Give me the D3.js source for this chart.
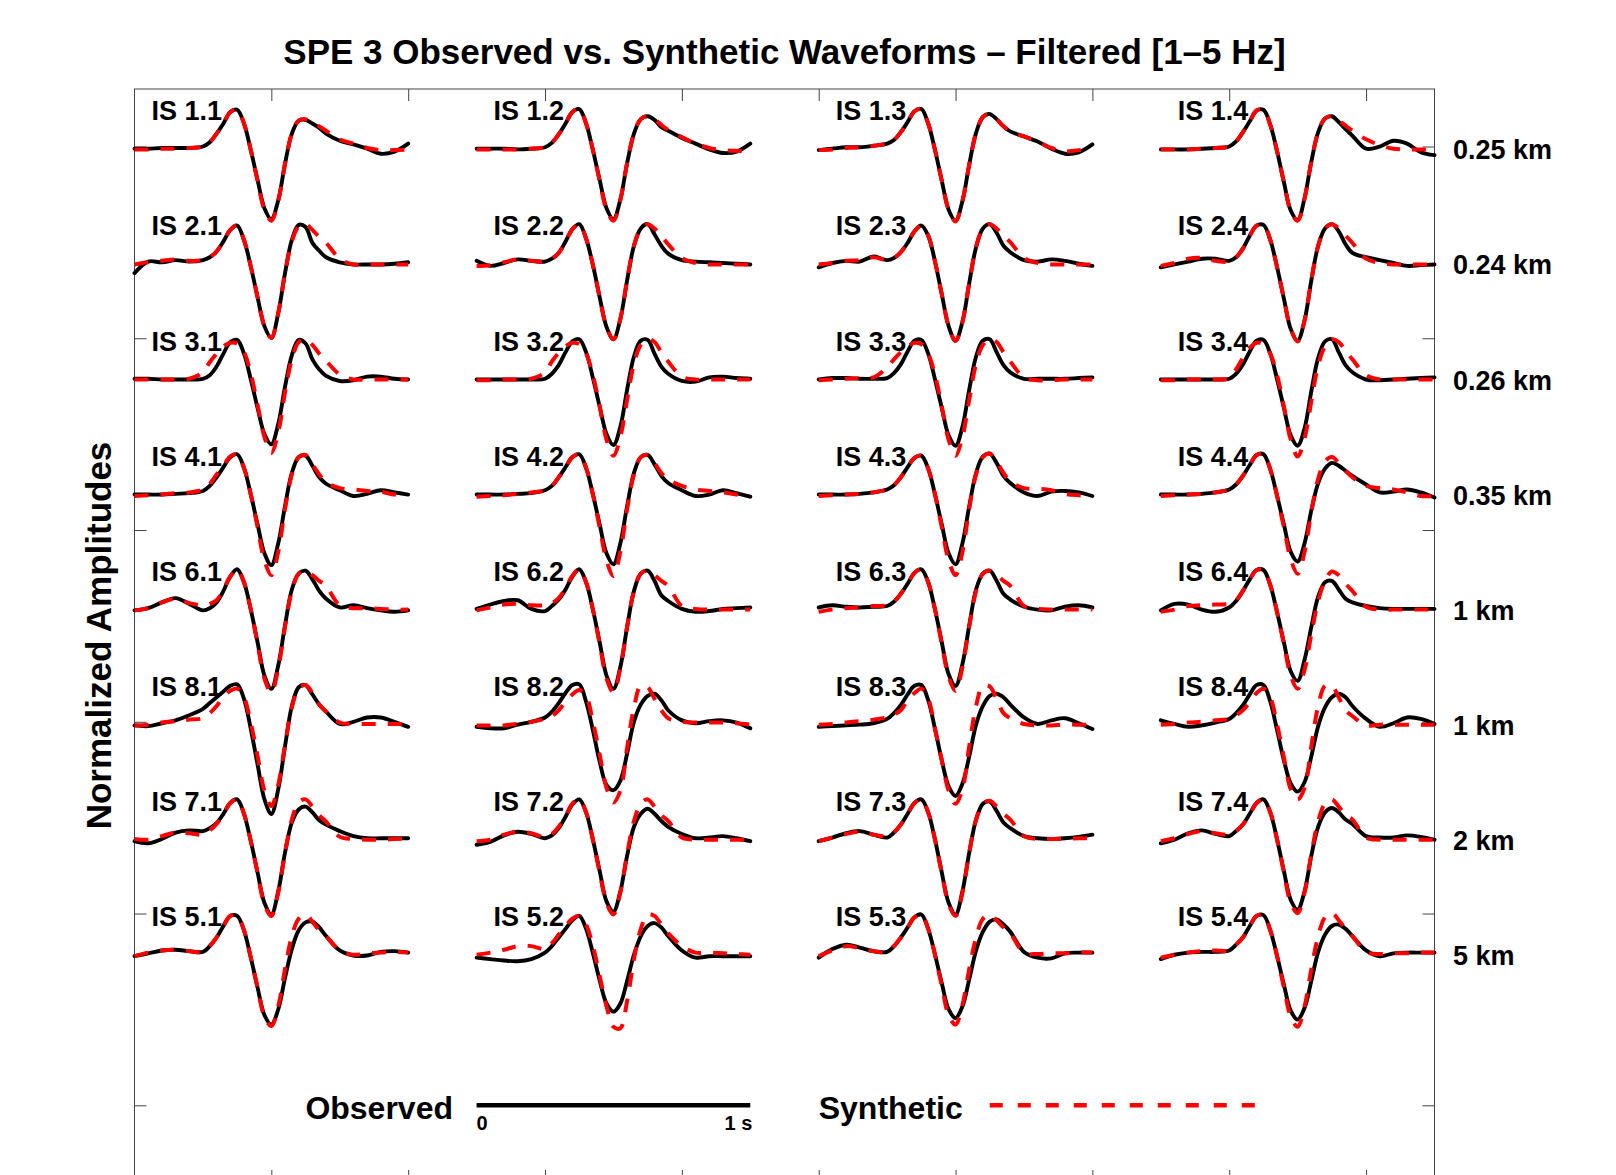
<!DOCTYPE html>
<html><head><meta charset="utf-8">
<script src="https://cdn.jsdelivr.net/npm/d3@7"></script>
<style>body{margin:0;background:#fff}</style>
</head><body>
<svg id="chart" width="1616" height="1175"></svg>
<script>
// ---------- data ----------
const times = [0,0.05,0.1,0.15,0.2,0.25,0.275,0.3,0.325,0.35,0.375,0.4,0.425,0.45,0.475,0.5,0.525,0.55,0.575,0.6,0.625,0.65,0.675,0.7,0.75,0.8,0.85,0.9,0.95,1];
const stations = ["1","2","3","4","6","8","7","5"];
const components = ["1","2","3","4"];
const distances = ["0.25 km","0.24 km","0.26 km","0.35 km","1 km","1 km","2 km","5 km"];
const xTicks = [1,2,3,4,5,6,7,8,9];
const yTicks = [0,-1,-2,-3,-4,-5];
const titleText = "SPE 3 Observed vs. Synthetic Waveforms \u2013 Filtered [1\u20135 Hz]";
const yLabel = "Normalized Amplitudes";

// normalized amplitudes (percent), sampled on `times`
const obs11 = [1,1,2,2,2,4,10,22,36,52,55,36,-1,-43,-82,-97,-71,-20,22,40,41,36,30,22,12,7,1,-6,-3,8];
const syn11 = [0,0,1,1,2,4,10,22,36,52,55,36,-1,-44,-84,-99,-72,-20,22,40,42,38,32,26,14,8,2,-1,-1,0];
const obs12 = [1,1,1,0,1,3,9,21,36,52,56,36,-1,-43,-82,-97,-70,-19,22,42,46,41,31,26,16,8,0,-5,-3,8];
const syn12 = [0,0,0,0,1,3,9,21,36,52,56,36,-1,-44,-84,-99,-71,-19,22,42,46,42,34,27,17,8,2,-1,-2,-2];
const obs13 = [-1,1,3,3,5,8,13,24,38,53,56,36,-1,-44,-84,-99,-72,-21,23,45,49,42,32,25,18,11,1,-6,-4,7];
const syn13 = [-1,0,2,3,5,8,13,24,38,53,56,36,-1,-44,-84,-100,-72,-21,23,45,49,42,32,25,18,11,2,-3,-1,0];
const obs14 = [0,0,0,1,2,4,11,24,39,54,55,34,-3,-46,-85,-98,-68,-17,24,43,46,38,28,19,1,4,12,8,-4,-8];
const syn14 = [0,0,0,1,2,4,11,24,39,54,55,34,-3,-46,-86,-99,-69,-17,24,43,46,40,33,26,14,6,1,0,0,0];

const obs21 = [-12,4,3,6,4,6,10,18,32,48,54,34,-3,-46,-86,-102,-68,-12,34,55,52,30,19,10,3,0,0,0,1,3];
const syn21 = [0,3,5,7,5,6,10,18,32,48,54,34,-3,-46,-86,-102,-68,-12,32,53,56,48,38,30,8,0,0,0,0,0];
const obs22 = [5,-2,2,7,5,4,8,16,32,49,56,36,-1,-46,-87,-104,-76,-22,26,50,56,42,26,15,6,4,3,2,1,0];
const syn22 = [-2,-1,3,7,5,4,8,16,32,49,56,36,-1,-46,-87,-104,-76,-22,26,50,56,50,40,28,9,2,0,0,0,0];
const obs23 = [-4,2,5,4,11,6,9,17,30,46,54,40,4,-42,-86,-106,-80,-26,24,50,56,44,26,17,6,4,7,5,1,-2];
const syn23 = [0,2,5,6,10,6,9,17,30,46,54,40,4,-42,-86,-106,-80,-26,24,50,56,50,40,31,9,2,0,0,0,0];
const obs24 = [-4,0,4,8,8,5,10,22,40,54,55,34,-4,-48,-90,-106,-78,-22,26,50,56,46,28,16,10,6,2,-2,-1,0];
const syn24 = [-2,2,8,9,5,4,10,22,40,54,55,34,-4,-48,-90,-107,-78,-22,26,50,56,50,40,30,8,2,0,0,0,0];

const obs31 = [1,1,0,0,0,1,6,18,36,52,55,36,0,-40,-76,-90,-62,-10,34,55,50,28,14,5,-2,-1,4,4,1,0];
const syn31 = [0,0,0,0,1,10,24,36,46,51,50,38,8,-36,-80,-102,-74,-18,28,52,56,48,36,26,7,0,0,0,0,0];
const obs32 = [0,0,0,0,0,1,8,20,38,53,56,38,2,-38,-76,-91,-66,-14,32,54,55,36,18,8,-2,-3,3,4,2,1];
const syn32 = [-1,-1,0,0,1,10,25,37,46,51,49,36,6,-38,-84,-106,-80,-28,22,48,56,52,38,25,4,0,0,0,0,0];
const obs33 = [0,2,2,1,1,2,9,21,39,54,55,36,0,-40,-78,-92,-66,-14,32,54,56,38,20,10,1,1,1,1,2,3];
const syn33 = [-1,0,1,2,3,17,28,38,46,51,49,36,6,-38,-84,-106,-80,-28,22,48,56,52,38,25,3,-1,-1,0,0,0];
const obs34 = [0,0,0,0,0,1,8,21,39,54,55,36,0,-40,-78,-92,-68,-16,30,53,56,38,20,10,0,-1,0,1,2,3];
const syn34 = [-1,-1,0,0,0,2,14,30,44,51,49,36,6,-38,-84,-107,-82,-30,20,46,56,52,40,28,6,0,0,0,0,0];

const obs41 = [0,0,0,1,2,5,12,24,38,52,56,37,0,-42,-82,-98,-68,-16,30,52,54,40,24,15,6,-2,1,6,3,0];
const syn41 = [-2,-1,0,2,3,7,15,28,40,53,56,37,0,-46,-92,-112,-80,-20,28,52,55,42,28,17,9,7,5,4,0,-2];
const obs42 = [0,0,0,1,2,6,12,24,38,52,56,37,0,-42,-82,-97,-68,-16,30,52,55,42,26,16,6,-2,0,6,2,-3];
const syn42 = [-3,-2,-1,1,3,6,12,24,38,52,56,37,0,-46,-92,-113,-80,-20,28,52,55,44,30,21,12,7,5,3,0,-3];
const obs43 = [0,0,0,1,3,7,13,24,38,51,54,36,0,-42,-82,-97,-68,-16,30,53,57,44,26,16,3,-2,4,5,3,-2];
const syn43 = [-2,-1,0,1,3,7,13,24,38,51,54,36,0,-46,-92,-112,-80,-20,28,52,57,46,30,18,9,8,6,1,-1,-2];
const obs44 = [0,0,0,1,3,7,14,26,41,55,56,35,-2,-42,-80,-93,-68,-22,16,36,44,40,33,26,14,3,4,7,3,-4];
const syn44 = [-2,-1,0,1,3,7,14,26,41,55,56,35,-2,-46,-90,-110,-80,-24,22,46,52,44,33,24,12,9,7,3,-2,-2];

const obs61 = [-1,2,10,16,8,-1,2,10,26,46,56,38,0,-46,-92,-110,-78,-22,28,50,54,42,26,15,3,6,2,-1,-3,-1];
const syn61 = [-1,2,10,15,9,6,8,13,28,46,56,38,0,-48,-96,-115,-82,-24,26,50,54,48,40,33,6,2,2,1,0,0];
const obs62 = [1,7,12,13,1,-2,5,14,28,46,56,38,0,-46,-92,-110,-80,-24,26,50,54,40,20,12,1,-3,-2,1,2,3];
const syn62 = [-1,3,7,8,6,6,9,16,30,47,56,38,0,-48,-96,-115,-82,-24,26,50,54,48,40,33,5,1,0,0,0,0];
const obs63 = [3,6,4,3,4,5,11,22,36,51,56,38,0,-46,-90,-106,-76,-22,28,50,54,40,22,14,4,0,-1,4,6,3];
const syn63 = [-3,0,2,3,5,6,11,22,36,51,56,38,0,-48,-94,-113,-80,-24,26,50,54,48,40,33,5,1,0,0,0,0];
const obs64 = [-1,8,7,0,-3,3,12,26,42,55,55,34,-4,-46,-86,-99,-70,-24,18,38,40,28,15,10,5,2,1,1,1,1];
const syn64 = [-3,0,5,6,7,8,13,26,42,55,55,34,-4,-48,-92,-110,-84,-34,12,40,53,48,36,26,4,0,0,0,0,0];

const obs81 = [-1,-2,2,6,13,22,30,38,46,54,56,36,-6,-56,-104,-124,-90,-30,26,52,55,42,28,18,1,4,10,10,4,-3];
const syn81 = [-1,0,3,5,7,9,16,26,38,47,50,38,2,-44,-92,-113,-84,-28,24,50,55,44,28,18,3,1,1,1,1,1];
const obs82 = [-3,-5,-5,0,4,10,18,30,44,55,56,32,-8,-52,-84,-91,-78,-40,4,28,40,43,34,20,6,2,5,6,3,-5];
const syn82 = [-1,-1,-1,1,4,8,12,20,32,42,48,40,4,-42,-88,-108,-92,-32,24,54,52,36,20,9,4,3,3,3,2,0];
const obs83 = [-3,-2,-1,0,2,8,16,27,42,54,55,34,-6,-50,-86,-99,-82,-44,0,26,40,43,38,28,10,1,6,9,2,-6];
const syn83 = [0,1,3,5,7,10,14,20,34,44,50,36,-6,-50,-92,-110,-90,-30,26,54,53,36,16,9,1,-1,-1,0,0,0];
const obs84 = [6,1,-3,-1,3,8,16,27,42,55,55,32,-8,-50,-82,-93,-80,-44,-2,24,38,43,38,26,8,-3,2,10,8,1];
const syn84 = [0,1,3,4,6,8,13,20,31,44,50,38,0,-46,-90,-104,-88,-30,26,54,54,38,20,12,-1,0,0,0,0,0];

const obs71 = [-2,-5,1,10,13,12,16,23,36,51,56,36,-2,-46,-88,-104,-72,-18,24,42,46,38,27,21,12,5,2,2,2,2];
const syn71 = [1,0,5,10,9,7,13,22,36,51,56,36,-2,-47,-90,-106,-74,-18,28,52,56,46,34,25,4,1,0,0,1,2];
const obs72 = [-7,-3,6,11,8,2,6,16,32,49,56,38,0,-44,-86,-100,-72,-22,18,36,43,36,26,18,8,2,3,5,2,-2];
const syn72 = [-2,0,7,11,9,4,8,18,33,50,56,38,0,-46,-88,-104,-74,-20,26,50,56,46,34,26,3,0,0,0,0,0];
const obs73 = [-2,3,9,12,7,3,10,21,36,51,56,38,0,-46,-88,-104,-72,-18,28,50,53,40,24,16,5,2,1,2,4,7];
const syn73 = [-2,3,8,11,7,5,10,21,36,51,56,38,0,-47,-90,-106,-74,-18,28,50,54,46,36,28,5,1,1,1,2,2];
const obs74 = [-5,0,9,13,8,5,12,21,36,51,56,38,0,-44,-84,-97,-72,-22,18,38,44,38,28,22,5,3,3,6,4,0];
const syn74 = [-2,2,8,12,9,7,12,21,36,51,56,38,0,-46,-88,-102,-74,-20,26,50,56,46,34,28,3,0,0,0,0,0];

const obs51 = [-2,2,6,7,5,4,12,24,40,54,54,34,-4,-46,-84,-97,-76,-32,8,34,45,46,38,26,6,-1,-1,4,5,3];
const syn51 = [-2,3,6,7,5,4,12,24,40,54,54,34,-4,-46,-86,-99,-72,-20,26,50,56,46,34,26,6,0,2,3,4,3];
const obs52 = [-4,-6,-8,-9,-6,3,12,24,36,48,54,36,2,-36,-68,-79,-68,-36,0,26,40,44,38,26,6,-4,-2,-2,-2,-2];
const syn52 = [0,3,7,12,12,8,16,28,40,50,54,42,12,-30,-72,-100,-102,-64,-6,36,56,54,42,30,12,3,3,2,1,0];
const obs53 = [-4,8,14,10,5,4,12,24,38,52,56,36,0,-40,-76,-88,-72,-34,6,32,46,49,42,32,4,-4,-5,2,3,3];
const syn53 = [-2,6,12,9,5,4,12,24,38,52,56,36,0,-44,-84,-97,-70,-20,24,50,56,48,38,30,3,1,2,2,3,3];
const obs54 = [-6,0,3,4,4,6,14,24,40,54,55,34,-2,-42,-78,-90,-74,-36,4,28,40,42,36,26,6,-2,2,3,3,3];
const syn54 = [-4,0,3,5,6,6,14,24,40,54,55,34,-2,-46,-86,-100,-72,-20,26,52,58,48,36,26,4,1,2,2,3,3];

// lookup tables built from the arrays above
const observed = {
  "1.1":obs11,"1.2":obs12,"1.3":obs13,"1.4":obs14,
  "2.1":obs21,"2.2":obs22,"2.3":obs23,"2.4":obs24,
  "3.1":obs31,"3.2":obs32,"3.3":obs33,"3.4":obs34,
  "4.1":obs41,"4.2":obs42,"4.3":obs43,"4.4":obs44,
  "6.1":obs61,"6.2":obs62,"6.3":obs63,"6.4":obs64,
  "8.1":obs81,"8.2":obs82,"8.3":obs83,"8.4":obs84,
  "7.1":obs71,"7.2":obs72,"7.3":obs73,"7.4":obs74,
  "5.1":obs51,"5.2":obs52,"5.3":obs53,"5.4":obs54
};
const synthetic = {
  "1.1":syn11,"1.2":syn12,"1.3":syn13,"1.4":syn14,
  "2.1":syn21,"2.2":syn22,"2.3":syn23,"2.4":syn24,
  "3.1":syn31,"3.2":syn32,"3.3":syn33,"3.4":syn34,
  "4.1":syn41,"4.2":syn42,"4.3":syn43,"4.4":syn44,
  "6.1":syn61,"6.2":syn62,"6.3":syn63,"6.4":syn64,
  "8.1":syn81,"8.2":syn82,"8.3":syn83,"8.4":syn84,
  "7.1":syn71,"7.2":syn72,"7.3":syn73,"7.4":syn74,
  "5.1":syn51,"5.2":syn52,"5.3":syn53,"5.4":syn54
};

// ---------- drawing ----------
const FONT = "'Liberation Sans', Arial, Helvetica, sans-serif";
const svg = d3.select("#chart");
svg.append("rect").attr("width",1616).attr("height",1175).attr("fill","#fff");

const x = d3.scaleLinear().domain([0, 9.5]).range([134.5, 1434.5]);
const y = d3.scaleLinear().domain([-5.4, 0.3]).range([1182, 89]);

const rowStep = 0.6, rowShift = -0.015, colStep = 2.5, traceSpan = 2, gain = 0.3755 / 100;

// axes box
svg.append("rect")
  .attr("x", x(0)).attr("y", y(0.3))
  .attr("width", x(9.5) - x(0)).attr("height", y(-5.4) - y(0.3))
  .attr("fill","none").attr("stroke","#444").attr("stroke-width",1);

function styleAxis(g){
  g.select(".domain").remove();
  g.selectAll(".tick line").attr("stroke","#444").attr("stroke-width",1);
  g.selectAll(".tick text").remove();
}
svg.append("g").attr("transform",`translate(0,${y(0.3)})`)
  .call(d3.axisTop(x).tickValues(xTicks).tickSize(-12).tickFormat("")).call(styleAxis);
svg.append("g").attr("transform",`translate(0,${y(-5.4)})`)
  .call(d3.axisBottom(x).tickValues(xTicks).tickSize(-12).tickFormat("")).call(styleAxis);
svg.append("g").attr("transform",`translate(${x(0)},0)`)
  .call(d3.axisLeft(y).tickValues(yTicks).tickSize(-12).tickFormat("")).call(styleAxis);
svg.append("g").attr("transform",`translate(${x(9.5)},0)`)
  .call(d3.axisRight(y).tickValues(yTicks).tickSize(-12).tickFormat("")).call(styleAxis);

// traces
const plot = svg.append("g");
stations.forEach((st, r) => {
  const base = -rowStep * r + rowShift;
  components.forEach((cp, c) => {
    const key = st + "." + cp;
    const x0 = colStep * c;
    const line = d3.line()
      .x((d, i) => x(x0 + traceSpan * times[i]))
      .y(d => y(base + d * gain))
      .curve(d3.curveCatmullRom.alpha(0.5));
    plot.append("path").attr("d", line(observed[key]))
      .attr("fill","none").attr("stroke","#000").attr("stroke-width",3.9)
      .attr("stroke-linejoin","round").attr("stroke-linecap","round");
    plot.append("path").attr("d", line(synthetic[key]))
      .attr("fill","none").attr("stroke","#ff0000").attr("stroke-width",4)
      .attr("stroke-dasharray","14,12");
    svg.append("text").attr("x", x(x0) + 17).attr("y", y(base) - 29)
      .attr("font-family",FONT).attr("font-weight","bold").attr("font-size",27)
      .attr("fill","#000").text("IS " + key);
  });
  svg.append("text").attr("x", 1453).attr("y", y(base) + 10)
    .attr("font-family",FONT).attr("font-weight","bold").attr("font-size",27)
    .attr("fill","#000").text(distances[r]);
});

// title and y label
svg.append("text").attr("x", (x(0)+x(9.5))/2).attr("y", 64).attr("text-anchor","middle")
  .attr("font-family",FONT).attr("font-weight","bold").attr("font-size",35)
  .attr("fill","#000").text(titleText);
svg.append("text").attr("transform",`translate(110.5,${(y(0.3)+y(-5.4))/2}) rotate(-90)`)
  .attr("text-anchor","middle")
  .attr("font-family",FONT).attr("font-weight","bold").attr("font-size",35)
  .attr("fill","#000").text(yLabel);

// legend
const ly = y(-5);
svg.append("line").attr("x1", x(2.5)).attr("x2", x(4.5)).attr("y1", ly).attr("y2", ly)
  .attr("stroke","#000").attr("stroke-width",4.5);
svg.append("text").attr("x", x(2.5)).attr("y", ly + 25)
  .attr("font-family",FONT).attr("font-weight","bold").attr("font-size",20).attr("fill","#000").text("0");
svg.append("text").attr("x", x(4.5) + 2).attr("y", ly + 25).attr("text-anchor","end")
  .attr("font-family",FONT).attr("font-weight","bold").attr("font-size",20).attr("fill","#000").text("1 s");
svg.append("text").attr("x", 453).attr("y", ly + 14).attr("text-anchor","end")
  .attr("font-family",FONT).attr("font-weight","bold").attr("font-size",32).attr("fill","#000").text("Observed");
svg.append("text").attr("x", x(5)).attr("y", ly + 14)
  .attr("font-family",FONT).attr("font-weight","bold").attr("font-size",32).attr("fill","#000").text("Synthetic");
svg.append("line").attr("x1", x(6.25)).attr("x2", x(8.25)).attr("y1", ly).attr("y2", ly)
  .attr("stroke","#ff0000").attr("stroke-width",4.5).attr("stroke-dasharray","13,15");
</script>
</body></html>
